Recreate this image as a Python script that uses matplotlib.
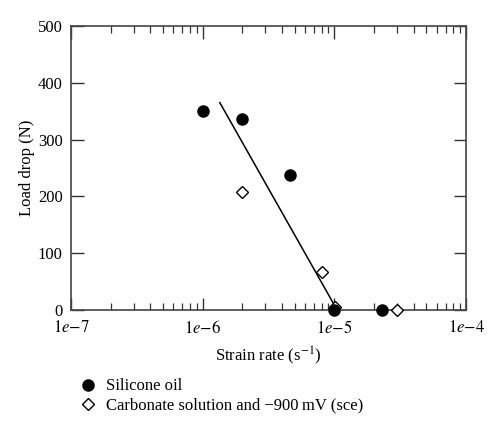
import matplotlib
matplotlib.use("Agg")
import matplotlib.pyplot as plt
from matplotlib.ticker import LogLocator, FixedLocator, FixedFormatter, NullFormatter
from matplotlib.lines import Line2D

plt.rcParams['font.family'] = ['Liberation Serif', 'DejaVu Serif']
plt.rcParams['mathtext.fontset'] = 'stix'

# Data
oil_rate = [1.0e-6, 2.0e-6, 4.6e-6, 1.0e-5, 2.3e-5]
oil_drop = [350, 337, 238, 0, 0]
carb_rate = [2.0e-6, 8.0e-6, 1.02e-5, 3.0e-5]
carb_drop = [208, 67, 6, 0]
fit_rate = [1.35e-6, 1.05e-5]
fit_drop = [365, 0]

xticks = [1e-7, 1e-6, 1e-5, 1e-4]
xticklabels = [r'$1e{-}7$', r'$1e{-}6$', r'$1e{-}5$', r'$1e{-}4$']
yticks = [0, 100, 200, 300, 400, 500]

fig = plt.figure(figsize=(5, 4.4), dpi=100)
ax = fig.add_axes([0.142, 0.2955, 0.79, 0.6455])

ax.plot(fit_rate, fit_drop, color='black', lw=1.1, zorder=2)
ax.plot(carb_rate, carb_drop, linestyle='none', marker='D', ms=6, mfc='white',
        mec='black', mew=1.0, zorder=3, clip_on=False)
ax.plot(oil_rate, oil_drop, linestyle='none', marker='o', ms=8, mfc='black',
        mec='black', zorder=4, clip_on=False)

ax.set_xscale('log')
ax.set_xlim(1e-7, 1e-4)
ax.set_ylim(0, 500)
ax.xaxis.set_major_locator(FixedLocator(xticks))
ax.xaxis.set_major_formatter(FixedFormatter(xticklabels))
ax.xaxis.set_minor_locator(LogLocator(base=10, subs=range(2, 10), numticks=20))
ax.xaxis.set_minor_formatter(NullFormatter())
ax.set_yticks(yticks)

ax.tick_params(which='both', direction='in', top=True, right=True,
               labelsize=12, color='#333333')
ax.tick_params(axis='x', which='major', pad=7)
ax.tick_params(axis='y', which='major', pad=6)
ax.tick_params(which='major', length=9, width=1.0)
ax.tick_params(which='minor', length=5, width=0.9)
for s in ax.spines.values():
    s.set_color('#444444')
    s.set_linewidth(1.2)

ax.set_xlabel(r'Strain rate (s$^{-1}$)', fontsize=12, labelpad=6)
ax.set_ylabel('Load drop (N)', fontsize=12, labelpad=2)

handles = [
    Line2D([], [], linestyle='none', marker='o', ms=8, mfc='black', mec='black'),
    Line2D([], [], linestyle='none', marker='D', ms=6, mfc='white', mec='black', mew=1.0),
]
labels = ['Silicone oil', 'Carbonate solution and \u2212900\u2009mV (sce)']
fig.legend(handles, labels, loc='upper left', bbox_to_anchor=(0.145, 0.155),
           frameon=False, fontsize=12, handlelength=1.0, handletextpad=0.6,
           labelspacing=0.2, borderaxespad=0)

fig.savefig('out.png', dpi=100)
